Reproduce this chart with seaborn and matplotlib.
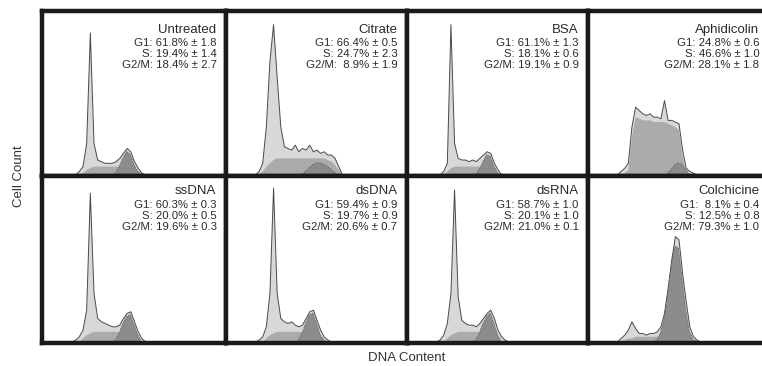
import numpy as np
import matplotlib
matplotlib.use("Agg")
import matplotlib.pyplot as plt
import seaborn as sns

# bins of DNA content (channel, 0-100 scale across a panel), width 2 from 13 to 65
bin_centers = np.arange(14, 65, 2)

panels = ["Untreated", "Citrate", "BSA", "Aphidicolin",
          "ssDNA", "dsDNA", "dsRNA", "Colchicine"]
g1_pct = [61.8, 66.4, 61.1, 24.8, 60.3, 59.4, 58.7, 8.1]
g1_err = [1.8, 0.5, 1.3, 0.6, 0.3, 0.9, 1.0, 0.4]
s_pct = [19.4, 24.7, 18.1, 46.6, 20.0, 19.7, 20.1, 12.5]
s_err = [1.4, 2.3, 0.6, 1.0, 0.5, 0.9, 1.0, 0.8]
g2m_pct = [18.4, 8.9, 19.1, 28.1, 19.6, 20.6, 21.0, 79.3]
g2m_err = [2.7, 1.9, 0.9, 1.8, 0.3, 0.7, 0.1, 1.0]

# total histogram / fitted S phase / fitted G2/M, fraction of panel height
untreated_total = [0, 0, .01, .03, .06, .20, .87, .20, .10, .09, .08, .08, .08, .09, .11, .14, .17, .15, .09, .05, .02, .01, 0, 0, 0, 0]
untreated_s = [0, 0, 0, .01, .02, .04, .05, .06, .06, .06, .06, .06, .06, .06, .06, .05, .04, .03, .02, .01, 0, 0, 0, 0, 0, 0]
untreated_g2 = [0, 0, 0, 0, 0, 0, 0, 0, 0, 0, 0, 0, 0, .02, .06, .11, .15, .13, .07, .03, .01, 0, 0, 0, 0, 0]

citrate_total = [0, .01, .03, .08, .30, .70, .92, .60, .30, .18, .17, .16, .19, .15, .17, .16, .19, .15, .16, .14, .15, .13, .13, .11, .06, .01]
citrate_s = [0, 0, .01, .03, .06, .08, .10, .11, .11, .11, .11, .11, .11, .11, .11, .11, .11, .11, .11, .11, .11, .10, .09, .07, .04, .01]
citrate_g2 = [0, 0, 0, 0, 0, 0, 0, 0, 0, 0, 0, 0, 0, 0, .01, .03, .05, .07, .08, .08, .07, .06, .04, .02, .01, 0]

bsa_total = [0, 0, .01, .03, .08, .92, .20, .11, .10, .10, .09, .10, .09, .11, .13, .15, .14, .08, .04, .01, 0, 0, 0, 0, 0, 0]
bsa_s = [0, 0, 0, .01, .03, .05, .06, .06, .06, .06, .06, .06, .06, .06, .05, .04, .03, .02, .01, 0, 0, 0, 0, 0, 0, 0]
bsa_g2 = [0, 0, 0, 0, 0, 0, 0, 0, 0, 0, 0, 0, .01, .04, .09, .13, .12, .06, .02, 0, 0, 0, 0, 0, 0, 0]

aphid_total = [0, .01, .03, .05, .08, .30, .42, .40, .38, .37, .38, .36, .36, .35, .46, .34, .34, .33, .32, .16, .05, .03, .02, .01, 0, 0]
aphid_s = [0, 0, .01, .02, .04, .24, .36, .35, .34, .34, .34, .33, .33, .33, .33, .32, .31, .30, .28, .12, .03, .01, 0, 0, 0, 0]
aphid_g2 = [0, 0, 0, 0, 0, 0, 0, 0, 0, 0, 0, 0, 0, 0, 0, .02, .04, .07, .08, .07, .04, .01, 0, 0, 0, 0]

ssdna_total = [0, .01, .02, .04, .08, .20, .90, .30, .15, .13, .12, .11, .10, .10, .11, .15, .18, .19, .13, .07, .03, .01, 0, 0, 0, 0]
ssdna_s = [0, 0, 0, .01, .03, .05, .06, .07, .07, .07, .07, .07, .07, .07, .07, .06, .05, .04, .02, .01, 0, 0, 0, 0, 0, 0]
ssdna_g2 = [0, 0, 0, 0, 0, 0, 0, 0, 0, 0, 0, 0, 0, .02, .06, .12, .16, .17, .11, .05, .01, 0, 0, 0, 0, 0]

dsdna_total = [0, .01, .02, .04, .10, .30, .93, .30, .15, .13, .12, .13, .11, .10, .11, .15, .19, .20, .14, .08, .04, .02, .01, 0, 0, 0]
dsdna_s = [0, 0, 0, .01, .03, .05, .06, .07, .07, .07, .07, .07, .07, .07, .07, .06, .05, .04, .02, .01, 0, 0, 0, 0, 0, 0]
dsdna_g2 = [0, 0, 0, 0, 0, 0, 0, 0, 0, 0, 0, 0, 0, .02, .06, .12, .17, .18, .12, .05, .02, 0, 0, 0, 0, 0]

dsrna_total = [0, .01, .02, .05, .12, .30, .92, .28, .14, .12, .11, .11, .10, .12, .15, .18, .20, .15, .08, .04, .02, .01, 0, 0, 0, 0]
dsrna_s = [0, 0, 0, .01, .03, .05, .06, .07, .07, .07, .07, .07, .07, .07, .06, .05, .04, .02, .01, 0, 0, 0, 0, 0, 0, 0]
dsrna_g2 = [0, 0, 0, 0, 0, 0, 0, 0, 0, 0, 0, 0, .02, .06, .12, .16, .18, .12, .05, .01, 0, 0, 0, 0, 0, 0]

colch_total = [0, .01, .03, .05, .08, .13, .09, .06, .06, .05, .06, .06, .07, .10, .18, .33, .50, .64, .62, .42, .25, .10, .04, .02, .01, 0]
colch_s = [0, 0, .01, .02, .03, .03, .04, .04, .04, .04, .04, .04, .04, .04, .04, .03, .02, .01, 0, 0, 0, 0, 0, 0, 0, 0]
colch_g2 = [0, 0, 0, 0, 0, 0, 0, 0, 0, 0, 0, 0, .02, .06, .14, .30, .46, .58, .57, .38, .20, .07, .02, .01, 0, 0]

totals = [untreated_total, citrate_total, bsa_total, aphid_total,
          ssdna_total, dsdna_total, dsrna_total, colch_total]
s_fits = [untreated_s, citrate_s, bsa_s, aphid_s,
          ssdna_s, dsdna_s, dsrna_s, colch_s]
g2_fits = [untreated_g2, citrate_g2, bsa_g2, aphid_g2,
           ssdna_g2, dsdna_g2, dsrna_g2, colch_g2]


def pct(v):
    s = f"{v:.1f}%"
    return s if v >= 10 else " " + s


def hist(ax, vals, **kw):
    sns.histplot(x=bin_centers, weights=np.asarray(vals, float), binwidth=2,
                 binrange=(13, 65), element="poly", fill=True, alpha=1, ax=ax, **kw)


sns.set_style("white")
plt.rcParams['font.family'] = ['Liberation Sans', 'DejaVu Sans']

W, H = 762, 366
fig = plt.figure(figsize=(W / 100, H / 100), dpi=100)

col_x = [42, 226, 407, 588, 769]
row_y = [11, 176, 343]
# baseline distance (px) of title and three stat lines below panel top
text_off = [[22, 35, 46, 57], [18, 32, 43, 54]]

for i, name in enumerate(panels):
    r, c = divmod(i, 4)
    x0, x1 = col_x[c], col_x[c + 1]
    y0, y1 = row_y[r], row_y[r + 1]
    ax = fig.add_axes([x0 / W, 1 - y1 / H, (x1 - x0) / W, (y1 - y0) / H])

    hist(ax, totals[i], color="#d8d8d8", edgecolor="#4a4a4a", linewidth=0.7)
    hist(ax, s_fits[i], color="#ababab", linewidth=0)
    hist(ax, g2_fits[i], color="#8c8c8c", edgecolor="#444444",
         linewidth=0.6, linestyle=":")

    ax.set_xlim(0, 100)
    ax.set_ylim(0, 1)
    ax.set(xlabel="", ylabel="", xticks=[], yticks=[])
    for sp in ax.spines.values():
        sp.set_visible(True)
        sp.set_linewidth(3.2)
        sp.set_color("#1a1a1a")

    offs = text_off[r]
    lines = [
        (name, 9.5),
        (f"G1: {pct(g1_pct[i])} ± {g1_err[i]:.1f}", 8.2),
        (f"S: {pct(s_pct[i])} ± {s_err[i]:.1f}", 8.2),
        (f"G2/M: {pct(g2m_pct[i])} ± {g2m_err[i]:.1f}", 8.2),
    ]
    for (txt, fs), dy in zip(lines, offs):
        ax.annotate(txt, xy=(1, 1), xycoords="axes fraction",
                    xytext=(-9.5 * 0.72, -dy * 0.72), textcoords="offset points",
                    ha="right", va="baseline", fontsize=fs, color="#2a2a2a")

fig.text(19 / W, 1 - 176 / H, "Cell Count", rotation=90, ha="center", va="center",
         fontsize=9.5, color="#333333")
fig.text(407 / W, 1 - 358 / H, "DNA Content", ha="center", va="center",
         fontsize=9.5, color="#333333")

fig.savefig("out.png", dpi=100)
